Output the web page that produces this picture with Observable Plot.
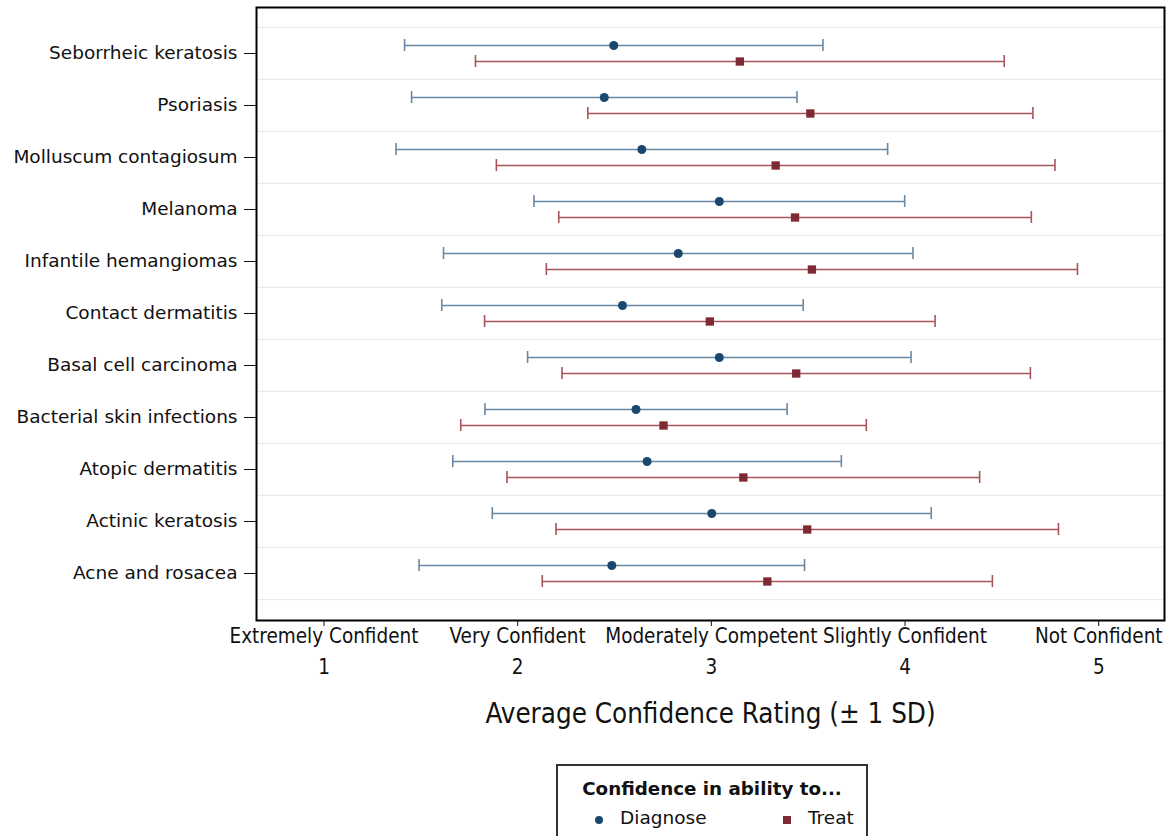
<!DOCTYPE html>
<html>
<head>
<meta charset="utf-8">
<script src="https://cdn.jsdelivr.net/npm/d3@7"></script>
<script src="https://cdn.jsdelivr.net/npm/@observablehq/plot@0.6"></script>
<style>
  body { margin: 0; background: #fff; font-family: "DejaVu Sans", sans-serif; }
  #chart svg { display: block; }
  g[aria-label="x-axis tick label"] text, .xcond { font-family: "DejaVu Sans Condensed", "DejaVu Sans", sans-serif; font-stretch: condensed; }
  #legend {
    margin-left: 556px; width: 308px; height: 80px; border: 2px solid #333; border-bottom: none;
    box-sizing: content-box; position: relative; color: #111;
  }
  #legend .title { position: absolute; top: 12px; left: 0; width: 100%; text-align: center; font-weight: bold; font-size: 18.3px; }
  #legend .item { position: absolute; top: 41px; font-size: 18.5px; }
  #legend .sym { position: absolute; top: 49px; }
</style>
</head>
<body>
<div id="chart"></div>
<div id="legend"></div>
<script>
const categories = [
  "Seborrheic keratosis", "Psoriasis", "Molluscum contagiosum", "Melanoma",
  "Infantile hemangiomas", "Contact dermatitis", "Basal cell carcinoma",
  "Bacterial skin infections", "Atopic dermatitis", "Actinic keratosis", "Acne and rosacea"
];
const diagnoseMean = [2.496, 2.447, 2.641, 3.041, 2.829, 2.541, 3.041, 2.611, 2.668, 3.002, 2.486];
const diagnoseSD   = [1.080, 0.995, 1.269, 0.957, 1.212, 0.933, 0.990, 0.780, 1.003, 1.133, 0.995];
const treatMean    = [3.147, 3.511, 3.332, 3.432, 3.519, 2.992, 3.438, 2.753, 3.165, 3.495, 3.289];
const treatSD      = [1.365, 1.149, 1.442, 1.220, 1.371, 1.163, 1.209, 1.047, 1.220, 1.297, 1.162];
const tickValues = [1, 2, 3, 4, 5];
const tickLabels = ["Extremely Confident", "Very Confident", "Moderately Competent", "Slightly Confident", "Not Confident"];
const seriesNames = ["Diagnose", "Treat"];
const legendTitle = "Confidence in ability to...";
const axisTitle = "Average Confidence Rating (± 1 SD)";

const diagColor = "#1a476f", diagLine = "#6a87a4";
const treatColor = "#7f2a32", treatLine = "#a9545b";

const diag = categories.map((c, i) => ({cat: c, mean: diagnoseMean[i], lo: diagnoseMean[i] - diagnoseSD[i], hi: diagnoseMean[i] + diagnoseSD[i]}));
const treat = categories.map((c, i) => ({cat: c, mean: treatMean[i], lo: treatMean[i] - treatSD[i], hi: treatMean[i] + treatSD[i]}));

const half = 26.15;
const off = 8;

const chart = Plot.plot({
  width: 1167,
  height: 764,
  marginLeft: 256,
  marginRight: 3,
  marginTop: 7,
  marginBottom: 144,
  style: {fontFamily: "DejaVu Sans", color: "#111", background: "#fff"},
  x: {domain: [0.6515, 5.3395]},
  y: {type: "band", domain: categories, range: [25, 600], padding: 0},
  marks: [
    Plot.ruleY(categories, {y: d => d, dy: -half, stroke: "#e8e8e8", strokeWidth: 1}),
    Plot.ruleY(categories.slice(-1), {y: d => d, dy: half, stroke: "#e8e8e8", strokeWidth: 1}),
    // Diagnose
    Plot.ruleY(diag, {y: "cat", x1: "lo", x2: "hi", dy: -off, stroke: diagLine, strokeWidth: 1.7}),
    Plot.tickX(diag, {x: "lo", y: "cat", dy: -off, insetTop: 20, insetBottom: 20, stroke: diagLine, strokeWidth: 1.6}),
    Plot.tickX(diag, {x: "hi", y: "cat", dy: -off, insetTop: 20, insetBottom: 20, stroke: diagLine, strokeWidth: 1.6}),
    Plot.dot(diag, {x: "mean", y: "cat", dy: -off, r: 4.5, fill: diagColor}),
    // Treat
    Plot.ruleY(treat, {y: "cat", x1: "lo", x2: "hi", dy: off, stroke: treatLine, strokeWidth: 1.7}),
    Plot.tickX(treat, {x: "lo", y: "cat", dy: off, insetTop: 20, insetBottom: 20, stroke: treatLine, strokeWidth: 1.6}),
    Plot.tickX(treat, {x: "hi", y: "cat", dy: off, insetTop: 20, insetBottom: 20, stroke: treatLine, strokeWidth: 1.6}),
    Plot.dot(treat, {x: "mean", y: "cat", dy: off, r: 4.7, symbol: "square", fill: treatColor}),
    Plot.frame({stroke: "#000", strokeWidth: 2}),
    Plot.axisY({tickSize: 12, tickPadding: 7, fontSize: 18.5, label: null, stroke: "#111"}),
    Plot.axisX({ticks: tickValues, tickSize: 6, tickPadding: 2, fontSize: 20.5, label: null,
      tickFormat: v => tickLabels[tickValues.indexOf(v)], stroke: "#111"}),
    Plot.axisX({ticks: tickValues, tickSize: 0, tickPadding: 39, fontSize: 20.5, label: null,
      tickFormat: v => String(v)}),
    Plot.text([axisTitle], {text: d => d, frameAnchor: "bottom", dy: 102, fontSize: 27.5, className: "xcond"})
  ]
});
document.getElementById("chart").appendChild(chart);

const legend = document.getElementById("legend");
legend.innerHTML = `
  <div class="title">${legendTitle}</div>
  <svg class="sym" style="left:36px" width="10" height="10"><circle cx="5" cy="5" r="4" fill="${diagColor}"/></svg>
  <div class="item" style="left:62px">${seriesNames[0]}</div>
  <svg class="sym" style="left:224px" width="10" height="10"><rect x="1" y="1" width="8" height="8" fill="${treatColor}"/></svg>
  <div class="item" style="left:250px">${seriesNames[1]}</div>
`;
</script>
</body>
</html>
